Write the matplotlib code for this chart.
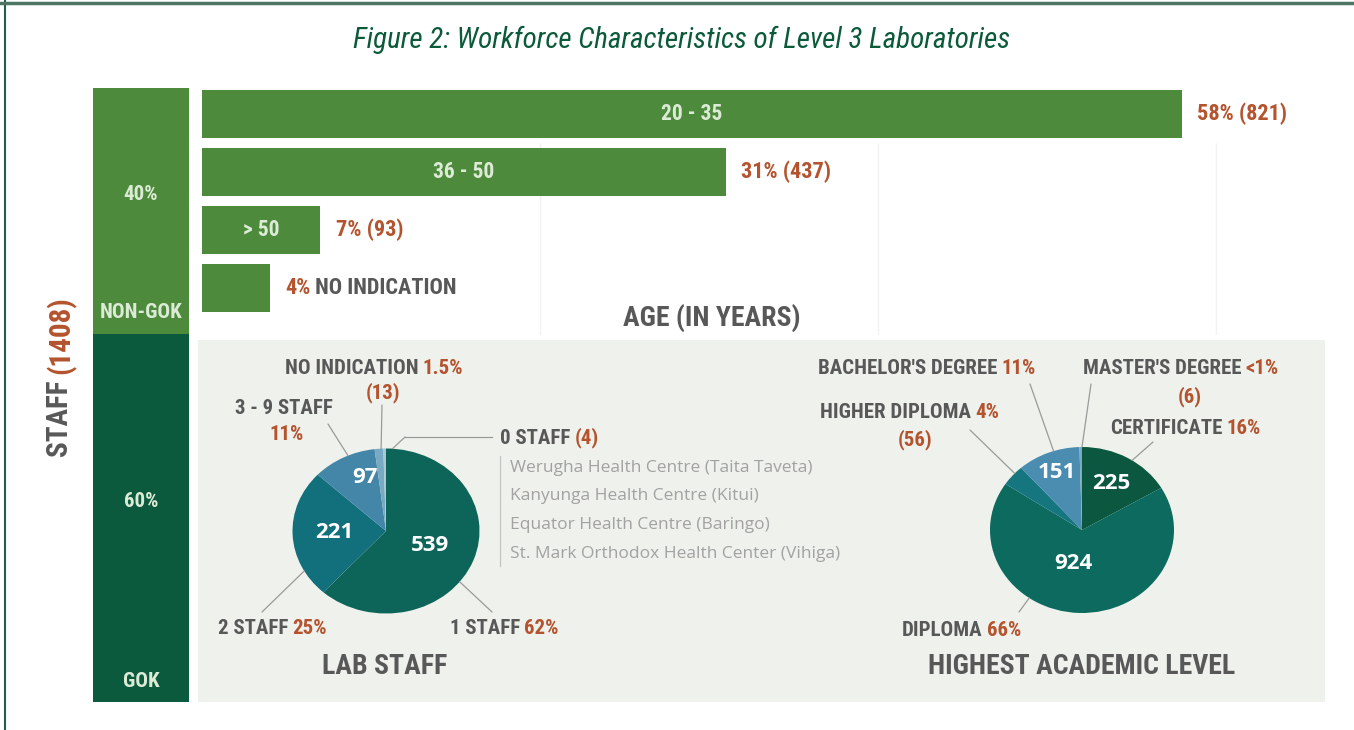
import matplotlib
matplotlib.use('Agg')
import matplotlib.pyplot as plt
from matplotlib import font_manager
from matplotlib.patches import Rectangle, ConnectionPatch
import numpy as np

# ---------------- data ----------------
total_staff = 1408
employer_labels = ['GOK', 'NON-GOK']
employer_pct = [60, 40]

age_groups = ['20 - 35', '36 - 50', '> 50', '']
age_pct = [58, 31, 7, 4]
age_counts = [821, 437, 93, 57]
age_value_labels = ['58% (821)', '31% (437)', '7% (93)', '4%']
age_gridlines = [20, 40, 60]

lab_staff_cats = ['1 STAFF', '2 STAFF', '3 - 9 STAFF', 'NO INDICATION', '0 STAFF']
lab_staff_counts = [539, 221, 97, 13, 4]
lab_staff_pct = ['62%', '25%', '11%', '1.5%', '']
zero_staff_facilities = [
    'Werugha Health Centre (Taita Taveta)',
    'Kanyunga Health Centre (Kitui)',
    'Equator Health Centre (Baringo)',
    'St. Mark Orthodox Health Center (Vihiga)',
]

acad_cats = ['CERTIFICATE', 'DIPLOMA', 'HIGHER DIPLOMA', "BACHELOR'S DEGREE", "MASTER'S DEGREE"]
acad_counts = [225, 924, 56, 151, 6]
acad_pct = ['16%', '66%', '4%', '11%', '<1%']

# ---------------- style ----------------
W, H = 1354, 730
avail = {f.name for f in font_manager.fontManager.ttflist}


def pick(*names):
    for n in names:
        if n in avail:
            return n
    return 'DejaVu Sans'


COND = pick('Roboto Condensed', 'Liberation Sans Narrow', 'Open Sans Condensed', 'Liberation Sans')
BODY = pick('Open Sans', 'Noto Sans', 'DejaVu Sans')

GREEN = '#4e8a3c'
DKGREEN = '#0b5a3e'
GRAY = '#585858'
ORANGE = '#b4532e'
LIGHTTXT = '#dcebd6'
PANEL = '#eef1ec'

lab_colors = ['#0d6458', '#12707c', '#4486a8', '#79aac4', '#a9c8d6']
acad_colors = ['#0b573f', '#0c6a5f', '#157680', '#4a8db0', '#78aac6']

fig = plt.figure(figsize=(W / 100, H / 100), dpi=100)
fig.patch.set_facecolor('white')


def fbox(x0, y0, x1, y1):
    return [x0 / W, 1 - y1 / H, (x1 - x0) / W, (y1 - y0) / H]


# background layer
bg = fig.add_axes([0, 0, 1, 1], zorder=0)
bg.set_xlim(0, W)
bg.set_ylim(H, 0)
bg.axis('off')
bg.add_patch(Rectangle((198, 340), 1127, 362, color=PANEL, lw=0))
bg.plot([5, 5], [0, H], color='#1f5e4c', lw=1.5)
bg.plot([0, W], [3, 3], color='#4d7565', lw=2.5)

# foreground text layer
fg = fig.add_axes([0, 0, 1, 1], zorder=10)
fg.set_xlim(0, W)
fg.set_ylim(H, 0)
fg.axis('off')
fg.patch.set_alpha(0)


def txt(x, y, s, size=15, color=GRAY, ha='left', va='center', **kw):
    return fg.text(x, y, s, fontsize=size, color=color, ha=ha, va=va,
                   family=COND, weight='bold', **kw)


def two_tone(x, y, s1, s2, size=15, c1=GRAY, c2=ORANGE):
    t1 = txt(x, y, s1, size=size, color=c1)
    fg.annotate(s2, xy=(1, 0), xycoords=t1, xytext=(3, 0), textcoords='offset points',
                ha='left', va='bottom', fontsize=size, color=c2,
                family=COND, weight='bold')
    return t1


# title
fg.text(682, 40, 'Figure 2: Workforce Characteristics of Level 3 Laboratories',
        fontsize=21, color='#0b5a3a', style='italic', ha='center', va='center', family=COND)

# ---------------- stacked employer bar ----------------
ax_s = fig.add_axes(fbox(93, 88, 189, 702), zorder=1)
bottoms = np.concatenate([[0], np.cumsum(employer_pct)[:-1]])
ax_s.bar([0] * len(employer_pct), employer_pct, bottom=bottoms, width=1,
         color=[DKGREEN, GREEN], lw=0)
ax_s.set_xlim(-0.5, 0.5)
ax_s.set_ylim(0, 100)
ax_s.axis('off')
for lab, p, b in zip(employer_labels, employer_pct, bottoms):
    ax_s.annotate(f'{p}%', xy=(0, b + p / 2), xytext=(0, 12), textcoords='offset points',
                  ha='center', va='center', fontsize=15, color=LIGHTTXT,
                  family=COND, weight='bold')
    ax_s.annotate(lab, xy=(0, b), xytext=(0, 15), textcoords='offset points',
                  ha='center', va='center', fontsize=15, color=LIGHTTXT,
                  family=COND, weight='bold')

# STAFF (1408) rotated
t_staff = fg.text(60, 457, 'STAFF ', rotation=90, fontsize=21, color=GRAY,
                  ha='center', va='bottom', family=COND, weight='bold')
fg.annotate(f'({total_staff})', xy=(0, 1), xycoords=t_staff, ha='left', va='bottom',
            rotation=90, fontsize=21, color=ORANGE, family=COND, weight='bold')

# ---------------- age bars ----------------
pxper = 16.9
xmax = 66
ax_b = fig.add_axes(fbox(202, 85, 202 + xmax * pxper, 335), zorder=1)
ax_b.set_xlim(0, xmax)
ax_b.set_ylim(3.81, -0.5)
ypos = np.arange(len(age_pct))
ax_b.vlines(age_gridlines, 0.5, 3.81, color='#f2f2f2', lw=1, zorder=0)
ax_b.barh(ypos, age_pct, height=0.83, color=GREEN, lw=0, zorder=2)
ax_b.axis('off')
for y, p, g, v in zip(ypos, age_pct, age_groups, age_value_labels):
    if g:
        ax_b.text(p / 2, y, g, ha='center', va='center', fontsize=15.5, color=LIGHTTXT,
                  family=COND, weight='bold')
    tv = ax_b.annotate(v, xy=(p, y), xytext=(11, 0), textcoords='offset points',
                       ha='left', va='center', fontsize=16, color=ORANGE,
                       family=COND, weight='bold')
    if not g:
        ax_b.annotate(' NO INDICATION', xy=(1, 0), xycoords=tv, ha='left', va='bottom',
                      fontsize=16, color=GRAY, family=COND, weight='bold')
txt(712, 318, 'AGE (IN YEARS)', size=20, ha='center')

# ---------------- pies ----------------


def make_pie(cx, cy, rx, ry, counts, colors):
    ax = fig.add_axes(fbox(cx - 1.1 * rx, cy - 1.1 * ry, cx + 1.1 * rx, cy + 1.1 * ry), zorder=2)
    wedges, _ = ax.pie(counts, colors=colors, startangle=90, counterclock=False,
                       wedgeprops=dict(linewidth=0))
    ax.set_aspect('auto')
    ax.set_xlim(-1.1, 1.1)
    ax.set_ylim(-1.1, 1.1)
    return ax, wedges


def inner_labels(ax, wedges, counts, radii, offs):
    for w, c, r, o in zip(wedges, counts, radii, offs):
        if r is None:
            continue
        a = np.deg2rad((w.theta1 + w.theta2) / 2 + o)
        ax.text(r * np.cos(a), r * np.sin(a), str(c), ha='center', va='center',
                fontsize=16, color='white', family=BODY, weight='bold')


def leader(ax, ang, px, py):
    a = np.deg2rad(ang)
    cp = ConnectionPatch((np.cos(a), np.sin(a)), (px, py), coordsA=ax.transData,
                         coordsB=fg.transData, color='#9a9a9a', lw=0.9)
    fg.add_artist(cp)


# lab staff pie
ax_p1, w1 = make_pie(386, 531, 93.5, 82.5, lab_staff_counts, lab_colors)
inner_labels(ax_p1, w1, lab_staff_counts, [0.5, 0.55, 0.68, None, None], [0, 0, -8, 0, 0])
leader(ax_p1, -38, 492, 612)
leader(ax_p1, 209, 262, 612)
leader(ax_p1, 114, 328, 424)
leader(ax_p1, 93, 382, 405)
leader(ax_p1, 86, 405, 437)
fg.plot([405, 492], [437, 437], color='#9a9a9a', lw=0.9)

two_tone(285, 368, 'NO INDICATION', lab_staff_pct[3])
txt(383, 393, f'({lab_staff_counts[3]})', color=ORANGE, ha='center')
txt(284, 408, lab_staff_cats[2], ha='center')
txt(287, 435, lab_staff_pct[2], color=ORANGE, ha='center')
two_tone(500, 438, lab_staff_cats[4], f'({lab_staff_counts[4]})')
for i, name in enumerate(zero_staff_facilities):
    fg.text(510, 468 + i * 28.5, name, fontsize=12.5, color='#a2a2a2', ha='left',
            va='center', family=BODY)
fg.plot([500, 500], [456, 566], color='#c4c4c4', lw=0.9)
two_tone(218, 628, lab_staff_cats[1], lab_staff_pct[1])
two_tone(450, 628, lab_staff_cats[0], lab_staff_pct[0])
txt(385, 666, 'LAB STAFF', size=20, ha='center')

# academic pie
ax_p2, w2 = make_pie(1082, 530, 92, 83, acad_counts, acad_colors)
inner_labels(ax_p2, w2, acad_counts, [0.65, 0.42, None, 0.74, None], [0, -12, 0, 0, 0])
leader(ax_p2, 57, 1153, 442)
leader(ax_p2, 235, 1019, 612)
leader(ax_p2, 137, 970, 430)
leader(ax_p2, 108, 1030, 384)
leader(ax_p2, 90, 1091, 384)

two_tone(818, 368, acad_cats[3], acad_pct[3])
two_tone(1083, 368, acad_cats[4], acad_pct[4])
txt(1190, 397, f'({acad_counts[4]})', color=ORANGE, ha='center')
two_tone(820, 412, acad_cats[2], acad_pct[2])
txt(915, 440, f'({acad_counts[2]})', color=ORANGE, ha='center')
two_tone(1110, 428, acad_cats[0], acad_pct[0])
two_tone(902, 630, acad_cats[1], acad_pct[1])
txt(1082, 666, 'HIGHEST ACADEMIC LEVEL', size=20, ha='center')

fig.savefig('out.png', dpi=100, facecolor='white')
